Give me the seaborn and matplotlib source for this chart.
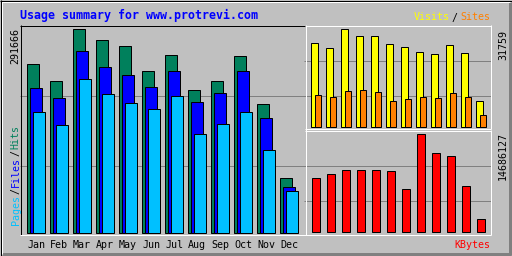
import matplotlib
matplotlib.use("Agg")
import matplotlib.pyplot as plt
import matplotlib.transforms as mtrans
import seaborn as sns
import numpy as np
import pandas as pd

# ---------------- data ----------------
months = ["Jan", "Feb", "Mar", "Apr", "May", "Jun", "Jul", "Aug", "Sep", "Oct", "Nov", "Dec"]
hits = [241400, 217000, 291666, 275900, 267300, 231400, 254400, 204100, 217000, 252900, 184000, 77800]
files = [207000, 192600, 260100, 237100, 225600, 208400, 231400, 186900, 199800, 231400, 163900, 65300]
pages = [172500, 153900, 219900, 198400, 185500, 176800, 195500, 141000, 155300, 172500, 118000, 59100]
visits = [27220, 25600, 31759, 29490, 29490, 26900, 25930, 24300, 23660, 26570, 23980, 8430]
sites = [10370, 9720, 11670, 11990, 11340, 8430, 9070, 9720, 9400, 11020, 9720, 3890]
kbytes = [8092000, 8692000, 9291000, 9291000, 9291000, 9141000, 6444000, 14686127,
          11839000, 11389000, 6893000, 1948000]

title = "Usage summary for www.protrevi.com"
max_hits_label = "291666"
max_visits_label = "31759"
max_kbytes_label = "14686127"

# ---------------- style ----------------
BG = "#C0C0C0"
DKGREY = "#808080"
C_HITS = "#00805C"
C_FILES = "#0000FF"
C_PAGES = "#00C0FF"
C_VISITS = "#FFFF00"
C_SITES = "#FF8000"
C_KBYTES = "#FF0000"
MONO = "DejaVu Sans Mono"
LW = 0.72

sns.set_theme(style="white")
plt.rcParams["font.family"] = [MONO, "DejaVu Sans"]

W, H = 512, 256
fig = plt.figure(figsize=(W / 100, H / 100), dpi=100, facecolor=BG)

# overlay axes in pixel coordinates (for borders and text)
ov = fig.add_axes([0, 0, 1, 1], zorder=10)
ov.set_xlim(0, W)
ov.set_ylim(H, 0)
ov.axis("off")
ov.patch.set_alpha(0)


def panel(box):
    l, t, r, b = box
    ax = fig.add_axes([l / W, 1 - b / H, (r - l) / W, (b - t) / H], zorder=2)
    ax.set_facecolor(BG)
    ax.axis("off")
    return ax


def scale(ax, box, x0_px, unit_px, base_px, top_px, vmax):
    l, t, r, b = box
    s = vmax / (base_px - top_px)
    ax.set_xlim((l - x0_px) / unit_px, (r - x0_px) / unit_px)
    ax.set_ylim((base_px - b) * s, (base_px - t) * s)


def bars(ax, vals, offset, width, color):
    df = pd.DataFrame({"x": np.arange(len(vals)) + offset, "y": vals})
    sns.barplot(data=df, x="x", y="y", native_scale=True, width=width, color=color,
                saturation=1, edgecolor="black", linewidth=LW, errorbar=None, ax=ax)


def grid(ax, rows):
    tr = mtrans.blended_transform_factory(ax.transAxes, ov.transData)
    for r in rows:
        ax.plot([0, 1], [r + 0.5, r + 0.5], transform=tr, color=DKGREY, lw=LW,
                zorder=0.5, solid_capstyle="butt")


# ---------- main panel ----------
box_main = (20, 25, 306, 235)
axm = panel(box_main)
grid(axm, [95, 165])
bars(axm, hits, 0.0, 12 / 23, C_HITS)
bars(axm, files, 3 / 23, 12 / 23, C_FILES)
bars(axm, pages, 6 / 23, 12 / 23, C_PAGES)
scale(axm, box_main, 32.8, 23, 232.5, 29.3, max(hits))
axm.axis("off")

# ---------- visits / sites panel ----------
box_vs = (304, 25, 491, 129)
axv = panel(box_vs)
grid(axv, [60, 95])
bars(axv, visits, 0.0, 7.3 / 15, C_VISITS)
bars(axv, sites, 3.5 / 15, 6.3 / 15, C_SITES)
scale(axv, box_vs, 314.5, 15, 127.3, 29.3, max(visits))
axv.axis("off")

# ---------- kbytes panel ----------
box_kb = (304, 130, 491, 235)
axk = panel(box_kb)
grid(axk, [165, 200])
bars(axk, kbytes, 0.0, 8.3 / 15, C_KBYTES)
scale(axk, box_kb, 316, 15, 232.3, 134.3, max(kbytes))
axk.axis("off")


# ---------- borders ----------
def hline(y, x0, x1, c):
    ov.plot([x0, x1], [y + 0.5, y + 0.5], color=c, lw=LW, solid_capstyle="butt")


def vline(x, y0, y1, c):
    ov.plot([x + 0.5, x + 0.5], [y0, y1], color=c, lw=LW, solid_capstyle="butt")


# outer frame
for k in (252, 253, 254):
    hline(k, 2, 511, DKGREY)
for k in (508, 509, 510):
    vline(k, 2, 255, DKGREY)
hline(1, 1, 510, "white")
vline(1, 1, 254, "white")
hline(0, 0, 512, "black")
hline(255, 0, 512, "black")
vline(0, 0, 256, "black")
vline(511, 0, 256, "black")

# main panel frame
hline(25, 20, 306, "black")
vline(20, 25, 235, "black")
hline(234, 20, 306, "white")
vline(305, 25, 235, "white")
# right panels
hline(25, 305, 491, "white")
vline(490, 25, 129, "white")
hline(128, 305, 491, "white")
hline(130, 305, 491, "white")
vline(490, 130, 235, "white")
hline(234, 305, 491, "white")

# ---------- texts ----------
ov.text(20, 19.5, title, color=C_FILES, fontsize=8.4, fontweight="bold",
        family=MONO, ha="left", va="baseline")

ov.text(449.5, 20.5, "Visits", color=C_VISITS, fontsize=7.2, family=MONO,
        ha="right", va="baseline")
ov.text(454.5, 20.5, "/", color="black", fontsize=7.2, family=MONO,
        ha="center", va="baseline")
ov.text(490.5, 20.5, "Sites", color=C_SITES, fontsize=7.2, family=MONO,
        ha="right", va="baseline")

ov.text(490.5, 248.5, "KBytes", color=C_KBYTES, fontsize=7.2, family=MONO,
        ha="right", va="baseline")

tr_month = mtrans.blended_transform_factory(axm.transData, ov.transData)
for i, m in enumerate(months):
    ov.text(i + 0.14, 248.5, m, transform=tr_month, color="black", fontsize=7.2,
            family=MONO, ha="center", va="baseline")

# rotated labels
def rot(x, y, s, c, ha):
    ov.text(x, y, s, color=c, fontsize=7.2, family=MONO, rotation=90,
            rotation_mode="anchor", ha=ha, va="baseline")


rot(18.5, 28, max_hits_label, "black", "right")
rot(506, 29.5, max_visits_label, "black", "right")
rot(506, 132.5, max_kbytes_label, "black", "right")

rot(18.5, 225, "Pages", C_PAGES, "left")
rot(18.5, 193.5, "/", "black", "left")
rot(18.5, 187, "Files", C_FILES, "left")
rot(18.5, 155.5, "/", "black", "left")
rot(18.5, 149, "Hits", C_HITS, "left")

fig.savefig("out.png", dpi=100, facecolor=BG)
